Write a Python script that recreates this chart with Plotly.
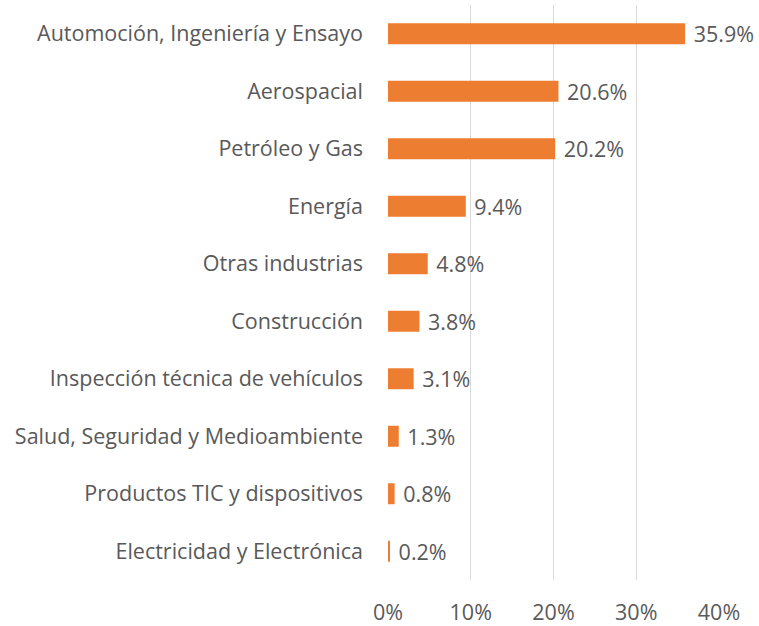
import plotly.graph_objects as go

categories = [
    "Automoción, Ingeniería y Ensayo",
    "Aerospacial",
    "Petróleo y Gas",
    "Energía",
    "Otras industrias",
    "Construcción",
    "Inspección técnica de vehículos",
    "Salud, Seguridad y Medioambiente",
    "Productos TIC y dispositivos",
    "Electricidad y Electrónica",
]
values = [35.9, 20.6, 20.2, 9.4, 4.8, 3.8, 3.1, 1.3, 0.8, 0.2]
x_ticks = [0, 10, 20, 30, 40]
x_tick_labels = ["0%", "10%", "20%", "30%", "40%"]

font_family = "Open Sans, Noto Sans, sans-serif"
gray = "#595959"
fsize = 21.5

fig = go.Figure(
    go.Bar(
        x=values,
        y=categories,
        orientation="h",
        marker=dict(color="#ED7D31", line=dict(width=0)),
        text=[f"{v:.1f}%" for v in values],
        texttemplate=" %{text}",
        textposition="outside",
        cliponaxis=False,
        textfont=dict(family=font_family, size=fsize, color=gray),
        hoverinfo="skip",
    )
)

fig.update_layout(
    width=759,
    height=626,
    margin=dict(l=388, r=40, t=5, b=46, autoexpand=False),
    paper_bgcolor="white",
    plot_bgcolor="white",
    bargap=0.635,
    showlegend=False,
    uniformtext=dict(minsize=fsize, mode="show"),
    xaxis=dict(
        range=[0, 40],
        tickvals=x_ticks,
        ticktext=x_tick_labels,
        showgrid=True,
        gridcolor="#D9D9D9",
        gridwidth=1.3,
        zeroline=False,
        showline=False,
        ticks="",
        automargin=False,
        ticklabelstandoff=17,
        tickfont=dict(family=font_family, size=fsize, color=gray),
    ),
    yaxis=dict(
        autorange="reversed",
        showgrid=False,
        zeroline=False,
        showline=False,
        ticks="",
        automargin=False,
        ticklabelstandoff=24,
        tickfont=dict(family=font_family, size=fsize, color=gray),
    ),
)

fig.write_html(
    "out.html",
    config={"displayModeBar": False},
    post_script="document.body.style.margin='0';document.body.style.padding='0';",
)
